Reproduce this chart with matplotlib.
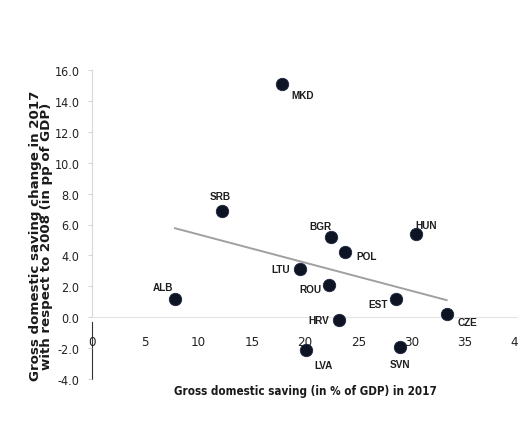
import numpy as np
import matplotlib
matplotlib.use("Agg")
import matplotlib.pyplot as plt

# Country codes and values
countries = ["MKD", "SRB", "BGR", "POL", "HUN", "LTU", "ROU", "ALB",
             "EST", "HRV", "CZE", "LVA", "SVN"]
saving_2017 = [17.8, 12.2, 22.4, 23.8, 30.4, 19.5, 22.3, 7.8,
               28.5, 23.2, 33.3, 20.1, 28.9]
saving_change = [15.1, 6.9, 5.2, 4.2, 5.4, 3.1, 2.1, 1.2,
                 1.2, -0.2, 0.2, -2.1, -1.9]

x_ticks = [0, 5, 10, 15, 20, 25, 30, 35, 40]
y_ticks = [-4, -2, 0, 2, 4, 6, 8, 10, 12, 14, 16]

# Label offsets in pixels (dx, dy, ha)
label_pos = {
    "MKD": (10, -11, "left"), "SRB": (-2, 15, "center"),
    "BGR": (-10, 11, "center"), "POL": (11, -4, "left"),
    "HUN": (10, 9, "center"), "LTU": (-10, 0, "right"),
    "ROU": (-8, -4, "right"), "ALB": (-12, 12, "center"),
    "EST": (-8, -5, "right"), "HRV": (-10, 0, "right"),
    "CZE": (11, -8, "left"), "LVA": (8, -15, "left"),
    "SVN": (0, -17, "center"),
}

fig = plt.figure(figsize=(5.18, 4.31), dpi=100)
ax = fig.add_axes([92 / 518, 51 / 431, 426 / 518, 309 / 431])
ax.set_xlim(0, 40)
ax.set_ylim(-4, 16)

for s in ["top", "right", "left"]:
    ax.spines[s].set_visible(False)
ax.spines["bottom"].set_position(("data", 0))
ax.spines["bottom"].set_color("#e4e4e4")
ax.spines["bottom"].set_linewidth(0.8)

# left axis: light above zero, dark below
ax.plot([0, 0], [0, 16], color="#d8d8d8", lw=0.8, clip_on=False, zorder=1)
ax.plot([0, 0], [-4, -0.3], color="#333333", lw=0.8, clip_on=False, zorder=1)

ax.set_xticks(x_ticks)
ax.set_xticklabels([str(v) for v in x_ticks])
ax.set_yticks(y_ticks)
ax.set_yticklabels([f"{v:.1f}" for v in y_ticks])
ax.tick_params(axis="x", length=0, pad=13, labelsize=9.5, labelcolor="#222222")
ax.tick_params(axis="y", length=3, width=0.6, color="#cccccc", pad=6,
               labelsize=9, labelcolor="#222222")
for lab in ax.get_xticklabels() + ax.get_yticklabels():
    lab.set_family("DejaVu Sans")
    lab.set_fontstretch("condensed")

# trend line fitted to the scatter
xs = np.array(saving_2017)
ys = np.array(saving_change)
slope, intercept = np.polyfit(xs, ys, 1)
xl = np.array([xs.min(), xs.max()])
ax.plot(xl, slope * xl + intercept, color="#a0a0a0", lw=1.4, zorder=2)

ax.scatter(xs, ys, s=80, color="#0e1424", edgecolor="#1b2540",
           linewidth=0.6, zorder=3)

for c, x, y in zip(countries, saving_2017, saving_change):
    dx, dy, ha = label_pos[c]
    ax.annotate(c, (x, y), xytext=(dx, dy), textcoords="offset pixels",
                ha=ha, va="center", fontsize=7.2, fontweight="bold",
                family="Liberation Sans", color="#1e1e1e", zorder=4)

fig.text(41 / 518, 1 - 236 / 431,
         "Gross domestic saving change in 2017\nwith respect to 2008 (in pp of GDP)",
         rotation=90, ha="center", va="center", fontsize=9.6, fontweight="bold",
         family="DejaVu Sans", color="#1a1a1a", linespacing=0.88)
fig.text(305 / 518, 1 - 392 / 431, "Gross domestic saving (in % of GDP) in 2017",
         ha="center", va="center", fontsize=8.4, fontweight="bold",
         family="DejaVu Sans", fontstretch="condensed", color="#1a1a1a")

fig.savefig("out.png", dpi=100)
